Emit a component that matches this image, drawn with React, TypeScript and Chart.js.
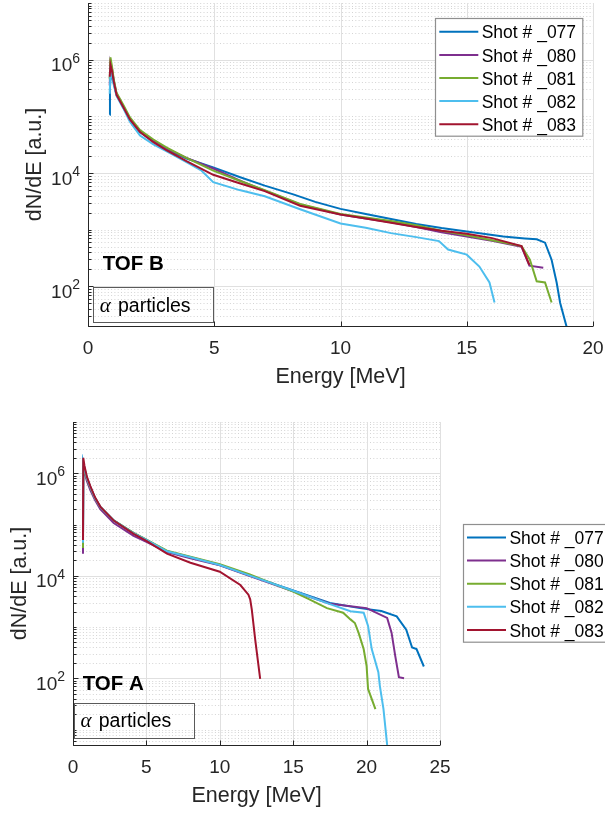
import { useEffect, useRef } from "react";
import { Chart, registerables } from "chart.js";

Chart.register(...registerables);

type Pt = [number, number]; // [energy in MeV, dN/dE in a.u.]

const shotLabels = ["Shot # _077", "Shot # _080", "Shot # _081", "Shot # _082", "Shot # _083"];
const shotColors = ["#0072BD", "#7E2F8E", "#77AC30", "#4DBEEE", "#A2142F"];

// ---------- TOF B spectra ----------
const tofB_077: Pt[] = [
  [0.86, 1.07e5], [0.87, 3.2e5], [0.9, 5.6e5], [0.95, 5.0e5], [1.02, 3.8e5], [1.13, 2.4e5],
  [1.4, 1.45e5], [1.66, 8.6e4], [2.06, 5.3e4], [2.59, 3.6e4], [3.12, 2.6e4], [3.9, 1.8e4],
  [4.96, 1.26e4], [6, 8.5e3], [7, 6.0e3], [8.13, 4.2e3], [9, 3.1e3], [10, 2.33e3], [11, 1.9e3],
  [12, 1.55e3], [13, 1.26e3], [14, 1.07e3], [15, 930], [16.45, 760], [17.3, 700], [17.77, 676],
  [18.1, 590], [18.36, 295], [18.56, 117], [18.7, 51], [18.96, 19],
];
const tofB_080: Pt[] = [
  [0.86, 3.5e5], [0.89, 8.9e5], [0.95, 7.0e5], [1.02, 4.3e5], [1.13, 2.5e5], [1.4, 1.5e5],
  [1.66, 9.0e4], [2.06, 5.5e4], [2.59, 3.7e4], [3.12, 2.7e4], [3.9, 1.85e4], [4.96, 1.2e4],
  [6, 7.4e3], [7, 4.9e3], [8.4, 2.8e3], [10, 1.86e3], [11, 1.58e3], [12, 1.35e3], [13, 1.12e3],
  [14, 900], [15, 760], [16, 640], [17.17, 500], [17.48, 232], [18.03, 214],
];
const tofB_081: Pt[] = [
  [0.86, 4.5e5], [0.89, 1.1e6], [0.95, 7.5e5], [1.02, 4.5e5], [1.13, 2.6e5], [1.4, 1.58e5],
  [1.66, 9.6e4], [2.06, 5.7e4], [2.59, 3.9e4], [3.12, 2.8e4], [3.9, 1.85e4], [4.96, 1.1e4],
  [6, 7.3e3], [7, 5.0e3], [8.4, 2.85e3], [10, 1.9e3], [11, 1.65e3], [12, 1.42e3], [13, 1.2e3],
  [14, 960], [15, 800], [16, 650], [17.17, 515], [17.5, 295], [17.77, 123], [18.1, 117],
  [18.36, 52],
];
const tofB_082: Pt[] = [
  [0.86, 2.5e5], [0.89, 6.3e5], [0.95, 5.2e5], [1.02, 3.6e5], [1.13, 2.3e5], [1.4, 1.38e5],
  [1.66, 8.0e4], [2.06, 4.6e4], [2.59, 3.2e4], [3.12, 2.4e4], [3.9, 1.55e4], [4.5, 1.1e4],
  [4.96, 6.9e3], [6, 5.0e3], [7, 3.9e3], [8.4, 2.3e3], [10, 1.29e3], [11, 1.08e3], [12, 870],
  [13, 740], [13.9, 630], [14.26, 447], [15, 363], [15.5, 224], [15.9, 117], [16.1, 52],
];
const tofB_083: Pt[] = [
  [0.86, 5.0e5], [0.89, 8.1e5], [0.95, 6.3e5], [1.02, 4.1e5], [1.13, 2.4e5], [1.4, 1.45e5],
  [1.66, 8.8e4], [2.06, 5.3e4], [2.59, 3.5e4], [3.12, 2.5e4], [3.9, 1.62e4], [4.96, 9.3e3],
  [6, 6.6e3], [7, 4.8e3], [8.4, 2.65e3], [10, 1.85e3], [11, 1.58e3], [12, 1.33e3], [13, 1.12e3],
  [14, 960], [15, 850], [16, 710], [17.17, 513], [17.48, 240],
];

// ---------- TOF A spectra ----------
const tofA_077: Pt[] = [
  [0.68, 4.5e4], [0.7, 1.6e6], [0.78, 1.25e6], [0.95, 8.0e5], [1.18, 5.3e5], [1.5, 3.3e5],
  [1.86, 2.2e5], [2.77, 1.2e5], [4.13, 6.8e4], [5, 5.0e4], [6.4, 3.0e4], [8, 2.3e4],
  [10, 1.62e4], [12, 1.02e4], [15, 5.2e3], [17.5, 2.95e3], [19.55, 2.34e3], [21, 2.05e3],
  [22.05, 1.62e3], [22.7, 890], [23.1, 400], [23.4, 372], [23.9, 170],
];
const tofA_080: Pt[] = [
  [0.68, 2.7e4], [0.7, 1.2e6], [0.78, 1.05e6], [0.95, 7.0e5], [1.18, 4.7e5], [1.5, 3.0e5],
  [1.86, 2.0e5], [2.77, 1.07e5], [4.13, 6.0e4], [5, 4.6e4], [6.4, 2.9e4], [8, 2.2e4],
  [10, 1.6e4], [12, 1.0e4], [15, 5.0e3], [17.5, 2.85e3], [20, 2.34e3], [21.4, 1.51e3],
  [21.7, 776], [21.95, 275], [22.2, 105], [22.55, 100],
];
const tofA_081: Pt[] = [
  [0.68, 3.5e4], [0.7, 1.4e6], [0.78, 1.15e6], [0.95, 7.8e5], [1.18, 5.3e5], [1.5, 3.3e5],
  [1.86, 2.2e5], [2.77, 1.2e5], [4.13, 6.9e4], [5, 5.1e4], [6.4, 3.1e4], [8, 2.35e4],
  [10, 1.68e4], [12, 1.08e4], [15, 4.9e3], [16, 3.6e3], [17.3, 2.34e3], [18.4, 1.9e3],
  [18.9, 1.41e3], [19.2, 1.2e3], [19.45, 776], [19.8, 372], [20, 174], [20.1, 62], [20.6, 25],
];
const tofA_082: Pt[] = [
  [0.68, 4.4e4], [0.7, 1.6e6], [0.78, 1.25e6], [0.95, 8.0e5], [1.18, 5.4e5], [1.5, 3.3e5],
  [1.86, 2.2e5], [2.77, 1.2e5], [4.13, 6.7e4], [5, 5.0e4], [6.4, 3.0e4], [8, 2.3e4],
  [10, 1.62e4], [12, 1.02e4], [15, 5.1e3], [17.5, 2.8e3], [18.9, 2.04e3], [19.8, 1.9e3],
  [20.1, 1.05e3], [20.35, 372], [20.8, 132], [20.9, 72], [21.15, 25], [21.4, 5],
];
const tofA_083: Pt[] = [
  [0.68, 5.0e4], [0.7, 2.0e6], [0.78, 1.4e6], [0.95, 8.5e5], [1.18, 5.6e5], [1.5, 3.4e5],
  [1.86, 2.24e5], [2.77, 1.2e5], [4.13, 6.6e4], [5, 4.8e4], [6.4, 2.7e4], [8, 1.8e4],
  [10, 1.2e4], [11.4, 6.6e3], [11.95, 4.27e3], [12.07, 3.47e3], [12.18, 2.19e3],
  [12.41, 575], [12.75, 98],
];

// Axis ticks
const energyTicksB = [0, 5, 10, 15, 20];
const energyTicksA = [0, 5, 10, 15, 20, 25];
const labelledExponents = [2, 4, 6];

const FONT = '"Liberation Sans", Arial, Helvetica, sans-serif';
const AXIS_COLOR = "#262626";

interface Panel {
  series: Pt[][];
  xTicks: number[];
  xMax: number;
  yMin: number;
  yMax: number;
  width: number;
  height: number;
  padding: { left: number; top: number; right: number; bottom: number };
  detector: string;
  detectorPos: [number, number];
  noteBox: [number, number, number, number];
  legendPos: [number, number];
}

const panelB: Panel = {
  series: [tofB_077, tofB_080, tofB_081, tofB_082, tofB_083],
  xTicks: energyTicksB,
  xMax: 20,
  yMin: 20,
  yMax: 1e7,
  width: 605,
  height: 400,
  padding: { left: 88, top: 3, right: 12, bottom: 74 },
  detector: "TOF B",
  detectorPos: [102.7, 270],
  noteBox: [93.3, 287.3, 120, 35],
  legendPos: [435, 18.3],
};

const panelA: Panel = {
  series: [tofA_077, tofA_080, tofA_081, tofA_082, tofA_083],
  xTicks: energyTicksA,
  xMax: 25,
  yMin: 5,
  yMax: 1e7,
  width: 605,
  height: 413,
  padding: { left: 73, top: 22, right: 165, bottom: 68 },
  detector: "TOF A",
  detectorPos: [82.7, 290],
  noteBox: [74, 302.7, 120, 35],
  legendPos: [462.7, 124],
};

function decorations(p: Panel) {
  return {
    id: "matlabAxes",
    beforeDatasetsDraw(chart: any) {
      const { ctx, chartArea: a, scales } = chart;
      const xs = scales.x;
      const ys = scales.y;
      ctx.save();
      ctx.beginPath();
      ctx.rect(a.left, a.top - 1, a.right - a.left + 1, a.bottom - a.top + 2);
      ctx.clip();
      ctx.lineWidth = 1;

      // minor horizontal grid (dotted)
      ctx.strokeStyle = "#d4d4d4";
      ctx.setLineDash([1, 2.3]);
      const lo = Math.floor(Math.log10(p.yMin));
      const hi = Math.ceil(Math.log10(p.yMax));
      for (let n = lo; n <= hi; n++) {
        for (let k = 1; k <= 9; k++) {
          const v = k * Math.pow(10, n);
          if (v < p.yMin * 0.999 || v > p.yMax * 1.001) continue;
          if (k === 1 && labelledExponents.includes(n)) continue;
          const y = Math.round(ys.getPixelForValue(v)) + 0.5;
          ctx.beginPath();
          ctx.moveTo(a.left, y);
          ctx.lineTo(a.right, y);
          ctx.stroke();
        }
      }

      // major grid (solid)
      ctx.setLineDash([]);
      ctx.strokeStyle = "#e0e0e0";
      for (const n of labelledExponents) {
        const y = Math.round(ys.getPixelForValue(Math.pow(10, n))) + 0.5;
        ctx.beginPath();
        ctx.moveTo(a.left, y);
        ctx.lineTo(a.right, y);
        ctx.stroke();
      }
      for (const t of p.xTicks) {
        const x = Math.round(xs.getPixelForValue(t)) + 0.5;
        ctx.beginPath();
        ctx.moveTo(x, a.top);
        ctx.lineTo(x, a.bottom);
        ctx.stroke();
      }
      ctx.restore();

      // axis lines and inward tick marks
      ctx.save();
      ctx.strokeStyle = AXIS_COLOR;
      ctx.lineWidth = 1;
      const left = Math.round(a.left) + 0.5;
      const bottom = Math.round(a.bottom) + 0.5;
      ctx.beginPath();
      ctx.moveTo(left, a.top);
      ctx.lineTo(left, bottom);
      ctx.lineTo(a.right, bottom);
      ctx.stroke();
      for (const t of p.xTicks) {
        const x = Math.round(xs.getPixelForValue(t)) + 0.5;
        ctx.beginPath();
        ctx.moveTo(x, bottom);
        ctx.lineTo(x, bottom - 5);
        ctx.stroke();
      }
      for (let n = lo; n <= hi; n++) {
        for (let k = 1; k <= 9; k++) {
          const v = k * Math.pow(10, n);
          if (v < p.yMin * 0.999 || v > p.yMax * 1.001) continue;
          const major = k === 1 && labelledExponents.includes(n);
          const y = Math.round(ys.getPixelForValue(v)) + 0.5;
          ctx.beginPath();
          ctx.moveTo(left, y);
          ctx.lineTo(left + (major ? 5 : 3), y);
          ctx.stroke();
        }
      }
      ctx.restore();
    },
    afterDraw(chart: any) {
      const { ctx, chartArea: a, scales } = chart;
      const xs = scales.x;
      const ys = scales.y;
      ctx.save();
      ctx.fillStyle = AXIS_COLOR;

      // y tick labels: 10^n
      ctx.textBaseline = "alphabetic";
      ctx.textAlign = "right";
      for (const n of labelledExponents) {
        const y = ys.getPixelForValue(Math.pow(10, n));
        const ex = a.left - 8;
        ctx.font = `14px ${FONT}`;
        const e = String(n);
        ctx.fillText(e, ex, y + 3);
        const ew = ctx.measureText(e).width;
        ctx.font = `19px ${FONT}`;
        ctx.fillText("10", ex - ew, y + 11.7);
      }

      // x tick labels
      ctx.textAlign = "center";
      ctx.font = `19px ${FONT}`;
      for (const t of p.xTicks) {
        ctx.fillText(String(t), xs.getPixelForValue(t), a.bottom + 28);
      }

      // axis titles
      ctx.font = `21.5px ${FONT}`;
      ctx.fillText("Energy [MeV]", (a.left + a.right) / 2, a.bottom + 56.7);
      ctx.save();
      ctx.translate(a.left - 47.5, (a.top + a.bottom) / 2);
      ctx.rotate(-Math.PI / 2);
      ctx.fillText("dN/dE [a.u.]", 0, 0);
      ctx.restore();

      // detector tag
      ctx.fillStyle = "#000";
      ctx.textAlign = "left";
      ctx.font = `bold 20.5px ${FONT}`;
      ctx.fillText(p.detector, p.detectorPos[0], p.detectorPos[1]);

      // particle note box
      const [bx, by, bw, bh] = p.noteBox;
      ctx.strokeStyle = "#5a5a5a";
      ctx.lineWidth = 1;
      ctx.strokeRect(Math.round(bx) + 0.5, Math.round(by) + 0.5, bw, bh);
      ctx.font = `italic 21px "Liberation Serif", "DejaVu Serif", serif`;
      ctx.fillText("α", bx + 6.5, by + 24.4);
      ctx.font = `19.5px ${FONT}`;
      ctx.fillText("particles", bx + 24.7, by + 24.4);

      // legend
      const [lx, ly] = p.legendPos;
      const lw = 147.3;
      const lh = 117.7;
      ctx.fillStyle = "#fff";
      ctx.fillRect(lx, ly, lw, lh);
      ctx.strokeStyle = "#8f8f8f";
      ctx.lineWidth = 1.2;
      ctx.strokeRect(Math.round(lx) + 0.5, Math.round(ly) + 0.5, lw, lh);
      ctx.font = `17.5px ${FONT}`;
      chart.data.datasets.forEach((ds: any, i: number) => {
        const ry = ly + 13.5 + 23.1 * i;
        ctx.strokeStyle = ds.borderColor;
        ctx.lineWidth = 2;
        ctx.beginPath();
        ctx.moveTo(lx + 4.3, ry);
        ctx.lineTo(lx + 43.3, ry);
        ctx.stroke();
        ctx.fillStyle = "#000";
        ctx.fillText(ds.label, lx + 46.7, ry + 6.6);
      });
      ctx.restore();
    },
  };
}

function SpectrumPanel({ panel }: { panel: Panel }) {
  const ref = useRef<HTMLCanvasElement | null>(null);
  useEffect(() => {
    if (!ref.current) return;
    const chart = new Chart(ref.current, {
      type: "line",
      data: {
        datasets: panel.series.map((pts, i) => ({
          label: shotLabels[i],
          data: pts.map(([x, y]) => ({ x, y })),
          borderColor: shotColors[i],
          backgroundColor: shotColors[i],
          borderWidth: 2,
          pointRadius: 0,
          tension: 0,
          fill: false,
          order: panel.series.length - i,
        })),
      },
      options: {
        responsive: false,
        animation: false,
        devicePixelRatio: 1,
        events: [],
        layout: { padding: panel.padding },
        scales: {
          x: { type: "linear", min: 0, max: panel.xMax, display: false },
          y: { type: "logarithmic", min: panel.yMin, max: panel.yMax, display: false },
        },
        plugins: {
          legend: { display: false },
          tooltip: { enabled: false },
        },
      },
      plugins: [decorations(panel)],
    } as any);
    return () => chart.destroy();
  }, [panel]);
  return (
    <canvas
      ref={ref}
      width={panel.width}
      height={panel.height}
      style={{ display: "block", width: panel.width, height: panel.height }}
    />
  );
}

export default function App() {
  return (
    <div
      style={{
        position: "fixed",
        left: 0,
        top: 0,
        width: 605,
        height: 813,
        background: "#fff",
        overflow: "hidden",
      }}
    >
      <SpectrumPanel panel={panelB} />
      <SpectrumPanel panel={panelA} />
    </div>
  );
}
